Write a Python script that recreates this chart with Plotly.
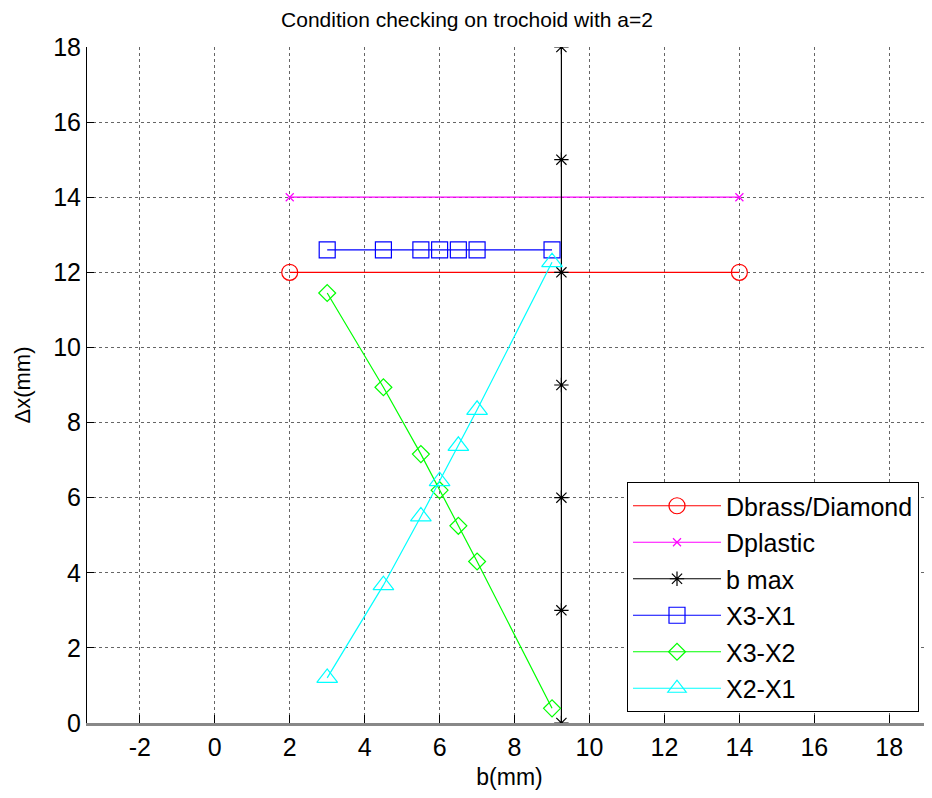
import plotly.graph_objects as go

# Data
brass_x = [2, 14]
brass_y = [12, 12]
plastic_x = [2, 14]
plastic_y = [14, 14]
bmax_x = [9.25, 9.25, 9.25, 9.25, 9.25, 9.25, 9.25]
bmax_y = [0, 3, 6, 9, 12, 15, 18]
b_vals = [3, 4.5, 5.5, 6, 6.5, 7, 9]
x3x1_y = [12.6, 12.6, 12.6, 12.6, 12.6, 12.6, 12.6]
x3x2_y = [11.45, 8.94, 7.16, 6.2, 5.25, 4.3, 0.39]
x2x1_y = [1.2, 3.67, 5.5, 6.44, 7.38, 8.34, 12.27]
x_ticks = [-2, 0, 2, 4, 6, 8, 10, 12, 14, 16, 18]
x_ticklabels = ["-2", "0", "2", "4", "6", "8", "10", "12", "14", "16", "18"]
y_ticks = [0, 2, 4, 6, 8, 10, 12, 14, 16, 18]

FONT = "Liberation Sans, Arial, sans-serif"

fig = go.Figure()

def add(name, x, y, color, symbol, size):
    fig.add_trace(go.Scatter(
        x=x, y=y, name=name, legendgroup=name, mode="lines+markers",
        line=dict(color=color, width=1.2),
        marker=dict(symbol=symbol, size=size, color=color,
                    line=dict(color=color, width=1.2)),
    ))

add("Dbrass/Diamond", brass_x, brass_y, "#ff0000", "circle-open", 16)
add("Dplastic", plastic_x, plastic_y, "#ff00ff", "x-thin-open", 8)
add("b max", bmax_x, bmax_y, "#000000", "asterisk-open", 12)
add("X3-X1", b_vals, x3x1_y, "#0000ff", "square-open", 16)
add("X3-X2", b_vals, x3x2_y, "#00ff00", "diamond-open", 13)
add("X2-X1", b_vals, x2x1_y, "#00ffff", "triangle-up-open", 18)

# page body has an 8px default margin; margins compensate for it
fig.update_layout(
    width=932, height=798,
    margin=dict(l=79, r=8, t=39, b=83, autoexpand=False),
    paper_bgcolor="white", plot_bgcolor="white",
    font=dict(family=FONT, size=24, color="black"),
    title=dict(text="Condition checking on trochoid with a=2", x=459 / 932, xanchor="center",
               xref="container", y=1 - 12 / 798, yanchor="middle", font=dict(size=21)),
    showlegend=True,
    legend=dict(x=(619 - 79) / 845, y=(715 - 474) / 676, xanchor="left", yanchor="top",
                bgcolor="white", bordercolor="black", borderwidth=1,
                font=dict(size=25), tracegroupgap=1, itemwidth=88),
    xaxis=dict(range=[-3.41, 19.14], tickvals=x_ticks, ticktext=x_ticklabels,
               ticks="inside", ticklen=8, automargin=False,
               tickcolor="black", showline=True, linecolor="#888", linewidth=3,
               mirror=False, showgrid=True, gridcolor="#666", griddash="dot", gridwidth=1,
               zeroline=False, title=dict(text="b(mm)", standoff=9, font=dict(size=23)),
               tickfont=dict(size=25)),
    yaxis=dict(range=[0, 18], tickvals=y_ticks, ticks="inside", ticklen=7,
               automargin=False,
               tickcolor="black", showline=True, linecolor="black", linewidth=1,
               mirror=False, showgrid=True, gridcolor="#666", griddash="dot", gridwidth=1,
               zeroline=False, title=dict(text="Δx(mm)", standoff=16, font=dict(size=22)),
               tickfont=dict(size=25)),
)

fig.write_html("out.html")
